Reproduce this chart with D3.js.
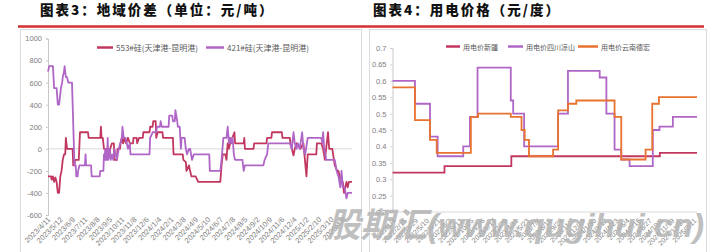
<!DOCTYPE html>
<html>
<head>
<meta charset="utf-8">
<script src="https://cdn.jsdelivr.net/npm/d3@7"></script>
<style>
  body { margin: 0; background: #fff; }
  svg { display: block; font-family: "Liberation Sans", "Noto Sans CJK SC", sans-serif; }
</style>
</head>
<body>
<div id="chart"></div>
<script>
// ---- chart 3: regional spread (yuan/ton), x = trading day index ----
const spreadTicks = ['2023/4/11', '2023/5/12', '2023/6/9', '2023/7/11', '2023/8/8', '2023/9/5', '2023/10/11',
  '2023/11/8', '2023/12/6', '2024/1/4', '2024/2/1', '2024/3/8', '2024/4/9', '2024/5/10', '2024/6/7', '2024/7/8',
  '2024/8/5', '2024/9/2', '2024/10/9', '2024/11/6', '2024/12/4', '2025/1/2', '2025/2/10', '2025/3/10', '2025/4/8'];
const spreadTickStep = 20;
const spreadDays = 494;

const spread553 = [[0, -250], [5, -250], [6, -280], [8, -250], [10, -300], [12, -260], [14, -300], [16, -400], [18, -400],
  [20, -250], [22, -200], [24, -100], [26, -50], [28, -50], [29, 100], [30, 50], [31, 0], [40, 0], [41, -150], [43, -150],
  [44, -100], [50, -100], [52, 150], [65, 150], [66, 100], [85, 100], [86, 200], [87, 100], [89, 100], [91, 0], [95, 0],
  [96, -50], [100, -50], [101, 0], [104, 50], [107, 50], [108, -100], [112, -100], [113, 0], [117, 0], [118, 50], [120, 100],
  [122, 50], [124, 100], [127, 50], [130, 100], [133, 50], [138, 50], [139, 100], [144, 100], [145, 50], [148, 100],
  [154, 100], [155, 150], [165, 150], [166, 200], [170, 200], [171, 250], [175, 250], [176, 100], [178, 150], [186, 150],
  [187, 100], [203, 100], [204, -50], [219, -50], [220, -100], [224, -120], [225, -200], [229, -150], [231, -200],
  [233, -250], [240, -250], [244, -300], [280, -300], [282, -150], [284, -50], [288, -50], [290, -100], [292, 50], [294, 0],
  [296, 50], [303, 150], [304, 50], [318, 50], [319, 100], [320, 0], [334, 0], [335, 50], [355, 50], [356, 100], [363, 100],
  [364, 150], [380, 150], [381, 100], [393, 100], [394, 50], [399, -60], [401, 0], [404, 50], [410, 0], [415, 50],
  [420, -250], [422, -50], [436, -50], [437, 50], [444, 50], [447, 0], [450, -100], [452, 0], [455, 150], [457, 0], [462, 0],
  [466, -150], [470, -200], [472, -200], [476, -300], [479, -300], [481, -400], [483, -350], [485, -300], [487, -350],
  [489, -300], [494, -300]];

const spread421 = [[0, 700], [2, 750], [8, 750], [10, 550], [14, 550], [16, 400], [18, 400], [19, 450], [21, 550], [23, 600],
  [24, 650], [26, 700], [27, 750], [28, 700], [29, 650], [31, 650], [33, 600], [39, 600], [43, -150], [45, -150], [46, -250],
  [48, -250], [49, -200], [51, -150], [60, -150], [61, -50], [62, -150], [70, -150], [71, -250], [84, -250], [85, -200],
  [90, -200], [91, -50], [92, -100], [93, 0], [94, -100], [96, -100], [97, 100], [98, -100], [100, 0], [102, -100],
  [104, -50], [106, -100], [108, 0], [110, -50], [112, -100], [115, 0], [120, 100], [121, 200], [123, 100], [126, 100],
  [128, 50], [130, 0], [133, 50], [134, -50], [165, -50], [166, 100], [170, 150], [176, 150], [177, 200], [182, 200],
  [183, 250], [185, 200], [196, 200], [197, 300], [202, 300], [203, 250], [206, 250], [207, 350], [210, 250], [211, 200],
  [214, 200], [216, 0], [217, 100], [222, 100], [224, 0], [226, -50], [229, 0], [231, 0], [234, -100], [237, -50],
  [262, -50], [263, -200], [280, -200], [282, -100], [285, 100], [290, 100], [292, 200], [294, 50], [296, 100], [298, 50],
  [300, 100], [302, -50], [304, -100], [316, -100], [318, -200], [320, -150], [350, -150], [352, -100], [356, -50],
  [358, 50], [364, 50], [393, 50], [396, 0], [398, 100], [399, 150], [401, 50], [404, 0], [406, 50], [409, 0], [413, 150],
  [415, 0], [418, -50], [422, 100], [444, 100], [446, 50], [447, 150], [449, 0], [452, -100], [466, -100], [469, -200],
  [472, -250], [475, -350], [477, -200], [479, -350], [482, -350], [485, -450], [487, -400], [491, -400], [494, -400]];

// ---- chart 4: power price (yuan/kWh), x = week index, value holds from that week on ----
const powerTicks = ['2022/1/4', '2022/2/15', '2022/3/29', '2022/5/10', '2022/6/21', '2022/8/2', '2022/9/13', '2022/10/25',
  '2022/12/6', '2023/1/17', '2023/2/28', '2023/4/11', '2023/5/23', '2023/7/4', '2023/8/15', '2023/9/26', '2023/11/7',
  '2023/12/19', '2024/1/30', '2024/3/12', '2024/4/23', '2024/6/4', '2024/7/16', '2024/8/27', '2024/10/8', '2024/11/19',
  '2024/12/31', '2025/2/11'];
const powerTickStep = 6;
const powerWeeks = 164;

const powerXinjiang = [[0, 0.32], [28, 0.34], [64, 0.37], [144, 0.38], [164, 0.38]];
const powerSichuan = [[0, 0.60], [12.1, 0.53], [20.2, 0.43], [24.3, 0.37], [38.1, 0.40], [41.7, 0.49], [45.8, 0.64],
  [63.7, 0.54], [65, 0.50], [70.9, 0.40], [89.2, 0.50], [94.5, 0.63], [111.6, 0.61], [115.2, 0.50], [119.6, 0.39],
  [123.2, 0.36], [127.7, 0.34], [140.2, 0.45], [143.8, 0.46], [151, 0.49], [164, 0.49]];
const powerYunnan = [[0, 0.58], [12.1, 0.48], [20.2, 0.42], [23.8, 0.38], [42.2, 0.49], [46.1, 0.50], [63.7, 0.49],
  [69.5, 0.45], [71.2, 0.42], [73.5, 0.37], [86.5, 0.39], [89.2, 0.51], [94.5, 0.53], [99, 0.54], [119.6, 0.49],
  [123.2, 0.36], [136.3, 0.39], [139.9, 0.53], [143.5, 0.55], [164, 0.55]];

const RED = '#c2375f';
const PURPLE = '#b066c6';
const ORANGE = '#e8722f';
const GREY_TEXT = '#808080';
const AXIS = '#c8c8c8';

const svg = d3.select('#chart').append('svg')
  .attr('width', 725)
  .attr('height', 252);

/* --------------------
  FRAMES & HEADINGS
--------------------- */
svg.append('rect').attr('x', 20.5).attr('y', 29.5).attr('width', 341).attr('height', 240)
  .attr('fill', 'none').attr('stroke', '#dcdcdc');
svg.append('rect').attr('x', 369.5).attr('y', 29.5).attr('width', 337).attr('height', 240)
  .attr('fill', 'none').attr('stroke', '#dcdcdc');

svg.append('line').attr('x1', 18).attr('x2', 704).attr('y1', 26.5).attr('y2', 26.5)
  .attr('stroke', '#d3302f').attr('stroke-width', 2.5);

const titles = [{ x: 40, text: '图表3：地域价差（单位：元/吨）' }, { x: 373, text: '图表4：用电价格（元/度）' }];
svg.selectAll('text.title')
  .data(titles)
  .enter()
  .append('text')
  .attr('class', 'title')
  .attr('x', (d) => d.x)
  .attr('y', 15)
  .style('font-family', '"Noto Sans CJK SC", sans-serif')
  .style('font-size', '13.5px')
  .style('font-weight', 900)
  .style('letter-spacing', '2px')
  .attr('fill', '#111')
  .text((d) => d.text);

function styleAxis(g) {
  g.select('.domain').attr('stroke', AXIS);
  g.selectAll('.tick line').attr('stroke', AXIS);
  g.selectAll('.tick text').attr('fill', GREY_TEXT).style('font-size', '7.5px');
}

function legend(items, y) {
  const g = svg.append('g');
  items.forEach((it) => {
    g.append('line').attr('x1', it.x).attr('x2', it.x + it.w).attr('y1', y).attr('y2', y)
      .attr('stroke', it.color).attr('stroke-width', 2.5);
    g.append('text').attr('x', it.x + it.w + 3).attr('y', y + 3)
      .attr('fill', '#595959')
      .style('font-size', `${it.size}px`)
      .style('font-family', '"Noto Sans CJK SC", sans-serif')
      .text(it.label);
  });
}

/* --------------------
  CHART 3
--------------------- */
const x3 = d3.scaleLinear().domain([0, spreadDays]).range([48, 352]);
const y3 = d3.scaleLinear().domain([-600, 1000]).range([215, 38.5]);

svg.append('line').attr('x1', x3(0)).attr('x2', x3(spreadDays))
  .attr('y1', y3(0)).attr('y2', y3(0))
  .attr('stroke', '#d9d9d9');

svg.append('g')
  .attr('transform', `translate(${x3(0)},0)`)
  .call(d3.axisLeft(y3).tickValues(d3.range(-600, 1001, 200)).tickSize(2).tickPadding(4)
    .tickFormat((d) => String(d)))
  .call(styleAxis);

const x3Axis = svg.append('g')
  .attr('transform', 'translate(0,219)')
  .call(d3.axisBottom(x3).tickValues(spreadTicks.map((t, i) => i * spreadTickStep))
    .tickFormat((d) => spreadTicks[d / spreadTickStep]).tickSize(0))
  .call(styleAxis);
x3Axis.select('.domain').remove();
x3Axis.selectAll('.tick text')
  .attr('x', 1).attr('y', 0).attr('dy', '0.35em')
  .attr('transform', 'rotate(-45)')
  .style('text-anchor', 'end');

const line3 = d3.line().x((d) => x3(d[0])).y((d) => y3(d[1]));
[[spread553, RED], [spread421, PURPLE]].forEach(([s, c]) => {
  svg.append('path').datum(s).attr('d', line3)
    .attr('fill', 'none').attr('stroke', c).attr('stroke-width', 1.8)
    .attr('stroke-linejoin', 'round');
});

legend([
  { x: 97, w: 16, color: RED, label: '553#硅(天津港-昆明港)', size: 8 },
  { x: 206, w: 18, color: PURPLE, label: '421#硅(天津港-昆明港)', size: 8 },
], 47.5);

/* --------------------
  CHART 4
--------------------- */
const x4 = d3.scaleLinear().domain([0, powerWeeks]).range([392.5, 697]);
const y4 = d3.scaleLinear().domain([0.2, 0.7]).range([212, 48]);

svg.append('g')
  .attr('transform', `translate(${x4(0)},0)`)
  .call(d3.axisLeft(y4).tickValues(d3.range(0.2, 0.7001, 0.05)).tickSize(2).tickPadding(4)
    .tickFormat((d) => String(+d.toFixed(2))))
  .call(styleAxis);

svg.append('line').attr('x1', x4(0)).attr('x2', x4(powerWeeks))
  .attr('y1', y4(0.2)).attr('y2', y4(0.2))
  .attr('stroke', '#d9d9d9');

const x4Axis = svg.append('g')
  .attr('transform', 'translate(0,221)')
  .call(d3.axisBottom(x4).tickValues(powerTicks.map((t, i) => i * powerTickStep))
    .tickFormat((d) => powerTicks[d / powerTickStep]).tickSize(0))
  .call(styleAxis);
x4Axis.select('.domain').remove();
x4Axis.selectAll('.tick text')
  .attr('x', 2).attr('y', 0).attr('dy', '0.35em')
  .attr('transform', 'rotate(-45)')
  .style('font-size', '7px')
  .style('text-anchor', 'end');

const line4 = d3.line().x((d) => x4(d[0])).y((d) => y4(d[1])).curve(d3.curveStepAfter);
[[powerXinjiang, RED], [powerSichuan, PURPLE], [powerYunnan, ORANGE]].forEach(([s, c]) => {
  svg.append('path').datum(s).attr('d', line4)
    .attr('fill', 'none').attr('stroke', c).attr('stroke-width', 1.8);
});

legend([
  { x: 446, w: 14, color: RED, label: '用电价新疆', size: 7 },
  { x: 508, w: 15, color: PURPLE, label: '用电价四川凉山', size: 7 },
  { x: 578, w: 20, color: ORANGE, label: '用电价云南德宏', size: 7 },
], 46.5);

// watermark
svg.append('text')
  .attr('x', 327)
  .attr('y', 237)
  .attr('textLength', 377)
  .attr('lengthAdjust', 'spacingAndGlyphs')
  .style('font-family', '"Liberation Sans", "Noto Sans CJK SC", sans-serif')
  .style('font-size', '34px')
  .style('font-weight', 700)
  .style('font-style', 'italic')
  .attr('fill', '#b4b4b4')
  .attr('opacity', 0.85)
  .text('股期汇(www.qugihui.cn)');
</script>
</body>
</html>
